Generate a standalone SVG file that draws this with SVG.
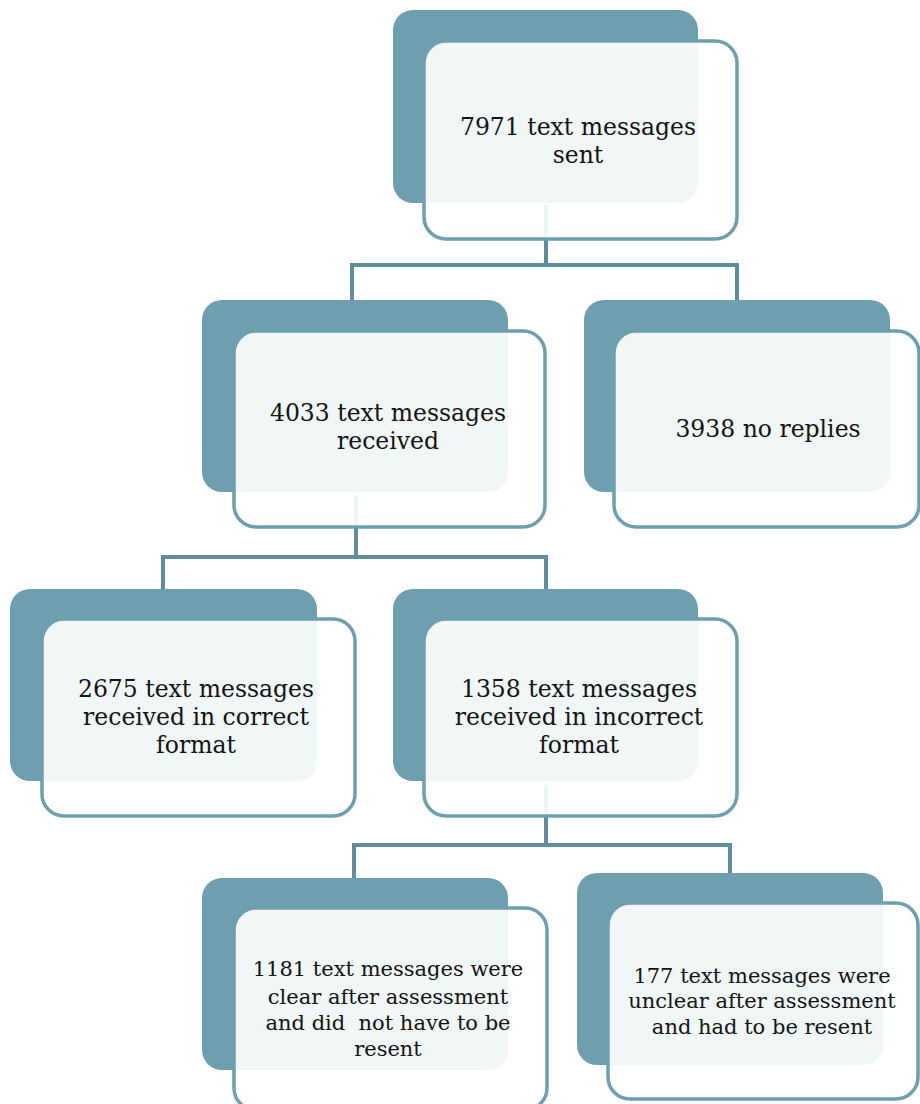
<svg xmlns="http://www.w3.org/2000/svg" width="920" height="1104" viewBox="0 0 920 1104">
<style>
.back{fill:#6E9FAF}
.front{fill:#FFFFFF;fill-opacity:0.9;stroke:#6E9FAF;stroke-width:3.5}
.conn{fill:none;stroke:#5E8D9C;stroke-width:4}
text{font-family:"DejaVu Serif","Liberation Serif",serif;fill:#141414;text-anchor:middle}
.t1{font-size:23.5px}
.t2{font-size:21px}
</style>
<rect x="0" y="0" width="920" height="1104" fill="#FFFFFF"/>
<g id="connectors">
<path class="conn" d="M546 205 V265 M352 265 H737 M352 263 V300 M737 263 V300"/>
<path class="conn" d="M356 495 V557 M163 557 H546 M163 555 V589 M546 555 V589"/>
<path class="conn" d="M546 785 V845 M354 845 H730 M354 843 V878 M730 843 V873"/>
</g>
<g id="n1">
<rect class="back" x="393" y="10" width="305" height="193" rx="20"/>
<rect class="front" x="424" y="41" width="313" height="198" rx="22"/>
<text class="t1" x="578" y="135">7971 text messages</text>
<text class="t1" x="578" y="163">sent</text>
</g>
<g id="n2">
<rect class="back" x="202" y="300" width="306" height="192" rx="20"/>
<rect class="front" x="234" y="331" width="311" height="196" rx="22"/>
<text class="t1" x="388" y="421">4033 text messages</text>
<text class="t1" x="388" y="449">received</text>
</g>
<g id="n3">
<rect class="back" x="584" y="300" width="306" height="192" rx="20"/>
<rect class="front" x="614" y="331" width="305" height="196" rx="22"/>
<text class="t1" x="768" y="437">3938 no replies</text>
</g>
<g id="n4">
<rect class="back" x="10" y="589" width="307" height="192" rx="20"/>
<rect class="front" x="42" y="619" width="313" height="197" rx="22"/>
<text class="t1" x="196" y="697">2675 text messages</text>
<text class="t1" x="196" y="725">received in correct</text>
<text class="t1" x="196" y="753">format</text>
</g>
<g id="n5">
<rect class="back" x="393" y="589" width="305" height="192" rx="20"/>
<rect class="front" x="424" y="619" width="313" height="197" rx="22"/>
<text class="t1" x="579" y="697">1358 text messages</text>
<text class="t1" x="579" y="725">received in incorrect</text>
<text class="t1" x="579" y="753">format</text>
</g>
<g id="n6">
<rect class="back" x="202" y="878" width="306" height="192" rx="20"/>
<rect class="front" x="234" y="908" width="313" height="202" rx="22"/>
<text class="t2" x="388" y="976">1181 text messages were</text>
<text class="t2" x="388" y="1004">clear after assessment</text>
<text class="t2" x="388" y="1030">and did&#160; not have to be</text>
<text class="t2" x="388" y="1056">resent</text>
</g>
<g id="n7">
<rect class="back" x="577" y="873" width="306" height="192" rx="20"/>
<rect class="front" x="608" y="903" width="310" height="196" rx="22"/>
<text class="t2" x="762" y="983">177 text messages were</text>
<text class="t2" x="762" y="1008">unclear after assessment</text>
<text class="t2" x="762" y="1034">and had to be resent</text>
</g>
</svg>
